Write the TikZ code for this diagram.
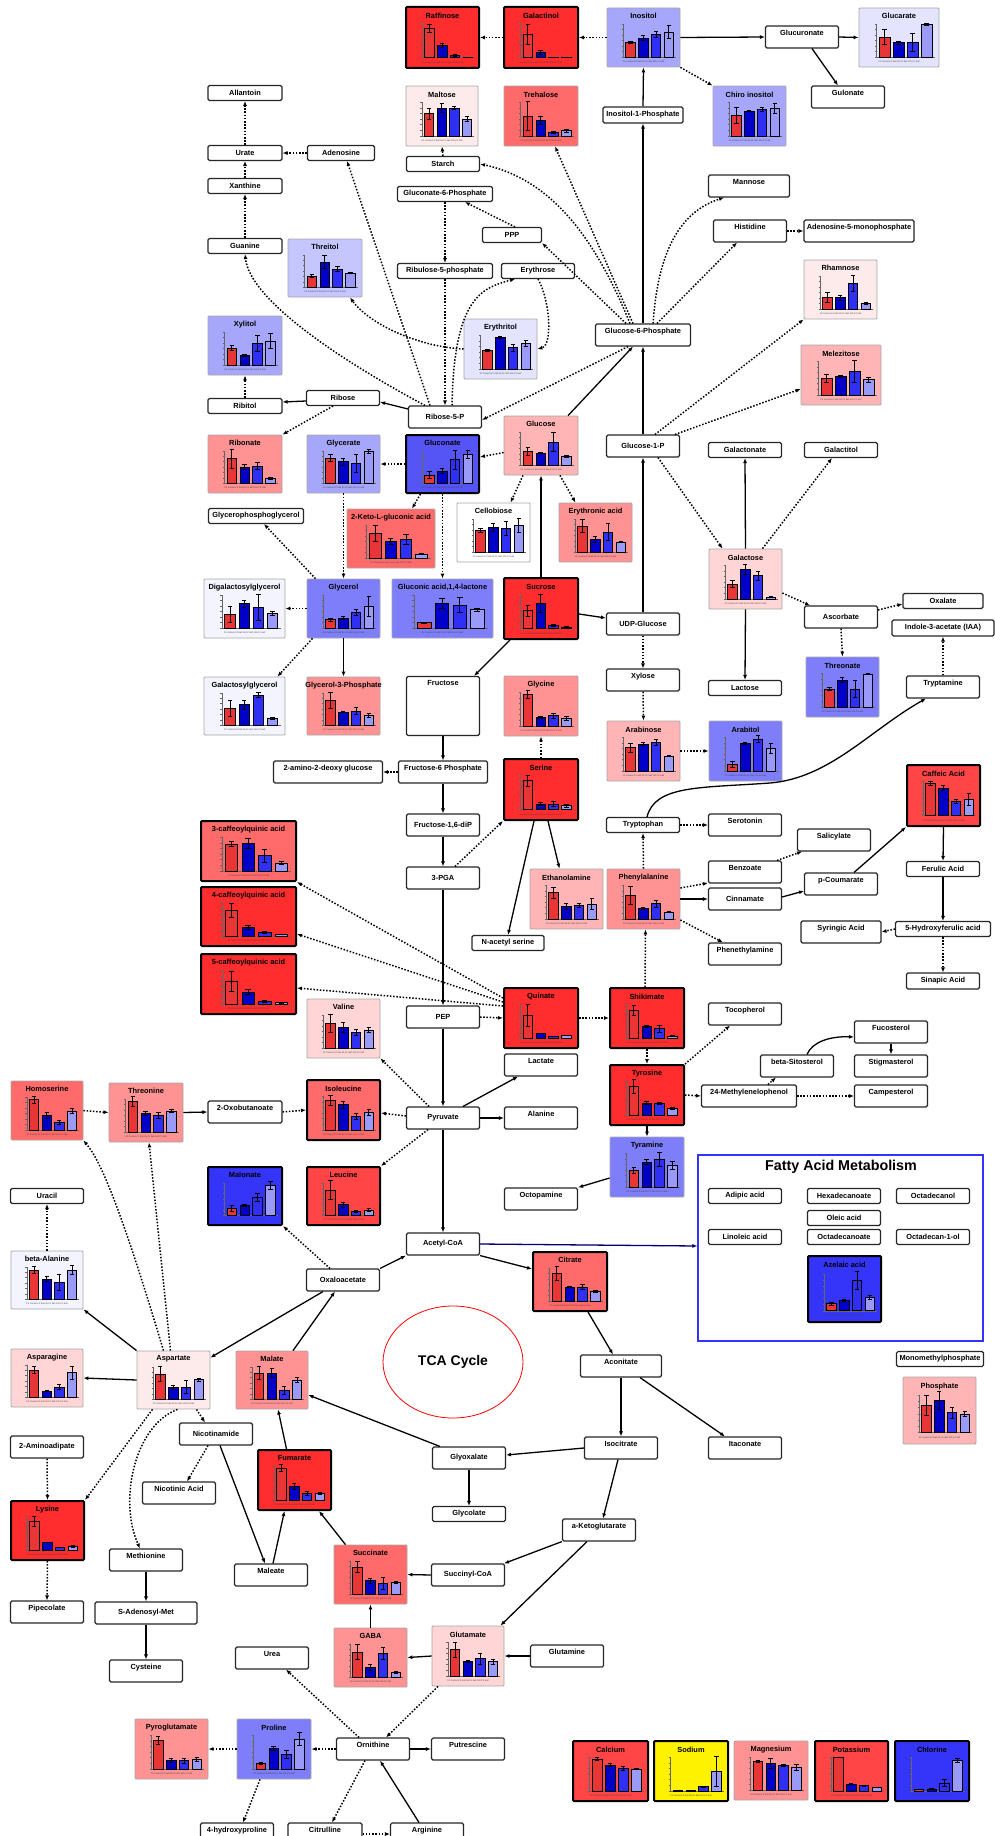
\documentclass[tikz,border=0pt]{standalone}
\usepackage{fontspec}
\setmainfont{Liberation Sans}
\usepackage{tikz}
\usetikzlibrary{arrows.meta}
\usetikzlibrary{shapes.geometric}

\definecolor{rA}{HTML}{FF2D2D}
\definecolor{rB}{HTML}{FF4545}
\definecolor{rC}{HTML}{FF6B6B}
\definecolor{rD}{HTML}{FF9292}
\definecolor{rE}{HTML}{FFB5B5}
\definecolor{rF}{HTML}{FFD5D5}
\definecolor{rG}{HTML}{FDEAEA}
\definecolor{wL}{HTML}{F4F4FE}
\definecolor{bE}{HTML}{E4E4FF}
\definecolor{bD}{HTML}{C6C6FF}
\definecolor{bC}{HTML}{A6A6FA}
\definecolor{bB}{HTML}{7E7EFA}
\definecolor{bA}{HTML}{5555F5}
\definecolor{bZ}{HTML}{3535FA}
\definecolor{bar1}{HTML}{E83535}
\definecolor{bar2}{HTML}{0000C8}
\definecolor{bar3}{HTML}{3030F5}
\definecolor{bar4}{HTML}{9A9AF8}
\definecolor{navyline}{HTML}{000070}
\definecolor{faframe}{HTML}{3333FF}

% #1 name, #2 x, #3 y, #4 width, #5 height, #6 look, #7 title, #8 bars (height/error)
\newcommand{\metchart}[8]{%
  \node[chartbox, minimum width=#4pt, minimum height=#5pt, #6] (#1) at (#2,#3) {};
  \node[ctitle] (#1-title) at (#2,{#3-0.36*#5}) {#7};
  \pgfmathsetmacro{\chL}{#2-0.5*#4}%
  \pgfmathsetmacro{\chB}{#3+0.33*#5}%
  \pgfmathsetmacro{\chH}{0.56*#5}%
  \pgfmathsetmacro{\chW}{0.065*#4}%
  \draw[axisline] ({\chL+0.22*#4},{\chB-\chH}) -- ({\chL+0.22*#4},\chB) -- ({\chL+0.95*#4},\chB);
  \foreach \t in {0,1,...,6}
    \draw[axisline] ({\chL+0.2*#4},{\chB-\t*\chH/6}) -- ({\chL+0.22*#4},{\chB-\t*\chH/6});
  \foreach \hh/\ee [count=\i] in {#8}{%
    \pgfmathsetmacro{\chX}{\chL+(0.145+0.175*\i)*#4}%
    \draw[barline, fill=bar\i] ({\chX-\chW},\chB) rectangle ({\chX+\chW},{\chB-\hh*\chH});
    \draw[errbar] ({\chX},{\chB-(\hh+\ee)*\chH}) -- ({\chX},{\chB-(\hh-\ee)*\chH})
      ({\chX-0.45*\chW},{\chB-(\hh+\ee)*\chH}) -- ({\chX+0.45*\chW},{\chB-(\hh+\ee)*\chH})
      ({\chX-0.45*\chW},{\chB-(\hh-\ee)*\chH}) -- ({\chX+0.45*\chW},{\chB-(\hh-\ee)*\chH});
  }
  \node[xlab] (#1-cat) at (#2,{#3+0.41*#5}) {C2 Control,C2 Salt 50,C2 Salt 100,C2 Salt};
}

\begin{document}
\begin{tikzpicture}[x=1pt, y=-1pt,
    met/.style={draw=black!85, fill=white, line width=1.1pt, rounded corners=1.5pt, inner sep=0pt,
      minimum width=73pt, minimum height=15pt, font=\fontsize{7.4}{8}\bfseries},
    mettop/.style={met, text height=9.3pt, text depth=12.7pt},
    metmid/.style={met, minimum height=22pt},
    chartbox/.style={draw=black!35, line width=0.8pt, rounded corners=1pt, inner sep=0pt},
    hot/.style={draw=black, line width=2pt},
    ctitle/.style={font=\fontsize{7.4}{8}\bfseries, inner sep=0pt},
    xlab/.style={font=\fontsize{2.2}{2.4}\selectfont, inner sep=0pt, text=black!75},
    axisline/.style={draw=black!60, line width=0.3pt},
    barline/.style={draw=black, line width=0.6pt},
    errbar/.style={draw=black, line width=0.6pt},
    conv/.style={-{Latex[length=5pt,width=4pt]}, line width=1.3pt},
    dconv/.style={conv, line width=1.5pt, dash pattern=on 1.5pt off 1.7pt},
    faconv/.style={conv, draw=navyline, fill=navyline}]

\useasboundingbox (0,0) rectangle (995,1836);

% plain metabolites
\node[met, minimum width=74pt] (allan) at (245,93) {Allantoin};
\node[met, minimum width=74pt] (urate) at (245,153) {Urate};
\node[met, minimum width=74pt] (xanth) at (245,186) {Xanthine};
\node[met, minimum width=74pt] (guan) at (245,246) {Guanine};
\node[met, minimum width=67pt] (adeno) at (341,153) {Adenosine};
\node[met, minimum width=74pt] (ribitol) at (245,406) {Ribitol};
\node[met] (ribose) at (343,398) {Ribose};
\node[met] (starch) at (443,164) {Starch};
\node[met, minimum width=95pt] (g6ph) at (445,194) {Gluconate-6-Phosphate};
\node[met, minimum width=59pt] (ppp) at (512,235) {PPP};
\node[met, minimum width=95pt] (ru5p) at (445,271) {Ribulose-5-phosphate};
\node[met] (eryth) at (538,271) {Erythrose};
\node[met, minimum width=80pt, minimum height=16pt] (ino1p) at (643,115) {Inositol-1-Phosphate};
\node[mettop, minimum width=95pt] (glc6p) at (643,335) {Glucose-6-Phosphate};
\node[metmid] (r5p) at (445,417) {Ribose-5-P};
\node[metmid] (glc1p) at (643,446) {Glucose-1-P};
\node[mettop] (glcur) at (802,37) {Glucuronate};
\node[mettop] (gulon) at (848,97) {Gulonate};
\node[mettop, minimum width=81pt] (mann) at (749,186) {Mannose};
\node[mettop] (hist) at (750,231) {Histidine};
\node[mettop, minimum width=110pt] (amp) at (859,231) {Adenosine-5-monophosphate};
\node[met] (galacton) at (745,450) {Galactonate};
\node[met] (galactit) at (841,450) {Galactitol};
\node[met, minimum width=95pt] (gpg) at (256,516) {Glycerophosphoglycerol};
\node[metmid] (udpg) at (643,624) {UDP-Glucose};
\node[met, text height=8.5pt, text depth=50.5pt] (fruc) at (443,706) {Fructose};
\node[mettop] (xyl) at (643,680) {Xylose};
\node[mettop, minimum width=109pt] (aminoglc) at (328,772) {2-amino-2-deoxy glucose};
\node[mettop, minimum width=89pt] (f6p) at (443,772) {Fructose-6 Phosphate};
\node[metmid] (f16p) at (443,825) {Fructose-1,6-diP};
\node[metmid] (pga) at (443,878) {3-PGA};
\node[met] (trp) at (643,825) {Tryptophan};
\node[metmid] (asc) at (841,617) {Ascorbate};
\node[met, minimum width=80pt] (oxal) at (943,601) {Oxalate};
\node[met, minimum width=102pt, minimum height=16pt] (iaa) at (943,628) {Indole-3-acetate (IAA)};
\node[met] (lact) at (745,688) {Lactose};
\node[mettop] (tryptam) at (943,687) {Tryptamine};
\node[mettop] (sero) at (745,825) {Serotonin};
\node[mettop] (salic) at (834,840) {Salicylate};
\node[mettop] (benz) at (745,872) {Benzoate};
\node[metmid] (cinn) at (745,899) {Cinnamate};
\node[mettop] (pcoum) at (841,884) {p-Coumarate};
\node[met] (ferul) at (943,869) {Ferulic Acid};
\node[mettop, minimum width=80pt] (syring) at (841,932) {Syringic Acid};
\node[met, minimum width=95pt] (hferul) at (943,929) {5-Hydroxyferulic acid};
\node[mettop] (phenam) at (745,954) {Phenethylamine};
\node[met, minimum height=16pt] (sinap) at (943,981) {Sinapic Acid};
\node[met, minimum width=72pt] (nacser) at (508,943) {N-acetyl serine};
\node[metmid] (pep) at (443,1017) {PEP};
\node[mettop] (lactate) at (541,1065) {Lactate};
\node[metmid] (pyr) at (443,1118) {Pyruvate};
\node[mettop] (ala) at (541,1118) {Alanine};
\node[mettop] (octop) at (541,1199) {Octopamine};
\node[metmid] (acoa) at (443,1244) {Acetyl-CoA};
\node[mettop, minimum width=81pt] (acon) at (621,1366) {Aconitate};
\node[mettop] (toco) at (745,1014) {Tocopherol};
\node[mettop] (fucos) at (891,1032) {Fucosterol};
\node[mettop] (bsito) at (797,1066) {beta-Sitosterol};
\node[mettop] (stigma) at (891,1066) {Stigmasterol};
\node[mettop, minimum width=95pt] (mlph) at (749,1096) {24-Methylenelophenol};
\node[mettop] (campe) at (891,1096) {Campesterol};
\node[met, minimum width=87pt] (mmp) at (940,1359) {Monomethylphosphate};
\node[mettop, minimum width=74pt] (oxbut) at (245,1112) {2-Oxobutanoate};
\node[met] (uracil) at (47,1196) {Uracil};
\node[metmid] (oxac) at (343,1280) {Oxaloacetate};
\node[metmid] (aad) at (47,1447) {2-Aminoadipate};
\node[metmid] (nicam) at (216,1434) {Nicotinamide};
\node[mettop] (nicac) at (179,1493) {Nicotinic Acid};
\node[mettop] (meth) at (146,1560) {Methionine};
\node[mettop] (male) at (271,1575) {Maleate};
\node[mettop] (pipe) at (47,1612) {Pipecolate};
\node[metmid, minimum width=102pt] (sam) at (146,1613) {S-Adenosyl-Met};
\node[mettop] (cyst) at (146,1671) {Cysteine};
\node[mettop] (urea) at (272,1658) {Urea};
\node[mettop] (hypro) at (237,1834) {4-hydroxyproline};
\node[mettop, minimum width=74pt] (citr) at (325,1834) {Citrulline};
\node[mettop] (arg) at (427,1834) {Arginine};
\node[mettop] (isocit) at (621,1448) {Isocitrate};
\node[metmid] (glyox) at (469,1458) {Glyoxalate};
\node[met] (glycol) at (469,1514) {Glycolate};
\node[mettop] (akg) at (599,1530) {a-Ketoglutarate};
\node[metmid] (sucoa) at (468,1575) {Succinyl-CoA};
\node[mettop] (gln) at (567,1656) {Glutamine};
\node[mettop] (orn) at (373,1749) {Ornithine};
\node[mettop] (putr) at (468,1749) {Putrescine};
\node[mettop] (itac) at (745,1448) {Itaconate};

% fatty acid block
\node[draw=faframe, line width=1.2pt, minimum width=285pt, minimum height=186pt, inner sep=0pt] (fam) at (840.5,1248) {};
\node[font=\fontsize{14.3}{16}\bfseries, inner sep=0pt] (famt) at (841,1167) {Fatty Acid Metabolism};
\node[met] (adip) at (745,1196) {Adipic acid};
\node[met] (hexa) at (844,1196) {Hexadecanoate};
\node[met] (octol) at (933,1196) {Octadecanol};
\node[met] (oleic) at (844,1218) {Oleic acid};
\node[met] (linol) at (745,1237) {Linoleic acid};
\node[met] (octoate) at (844,1237) {Octadecanoate};
\node[met] (octan) at (933,1237) {Octadecan-1-ol};

\node[draw=red, ellipse, line width=0.8pt, minimum width=140pt, minimum height=112pt,
  font=\fontsize{14}{16}\bfseries] (tca) at (453,1362) {TCA Cycle};

% measured metabolites
\metchart{raff}{442.5}{37.5}{73}{61}{fill=rA,hot}{Raffinose}{0.86/0.13,0.36/0.06,0.08/0.03,0.01/0}
\metchart{galtol}{541}{37.5}{74}{61}{fill=rA,hot}{Galactinol}{0.69/0.29,0.15/0.05,0.02/0,0.02/0}
\metchart{inos}{643.5}{37.5}{73}{59}{fill=bC}{Inositol}{0.45/0.03,0.58/0.08,0.69/0.08,0.76/0.2}
\metchart{glucar}{899}{37.5}{80}{59}{fill=bE}{Glucarate}{0.61/0.22,0.43/0.05,0.45/0.28,1.0/0.03}
\metchart{chiro}{749.5}{116}{73}{60}{fill=bC}{Chiro inositol}{0.61/0.25,0.74/0.02,0.79/0.06,0.83/0.15}
\metchart{malt}{442}{116}{72}{60}{fill=rG}{Maltose}{0.66/0.17,0.83/0.13,0.83/0.05,0.5/0.08}
\metchart{treh}{541}{116}{74}{60}{fill=rC}{Trehalose}{0.59/0.44,0.45/0.12,0.1/0.02,0.15/0.05}
\metchart{threit}{325}{268}{74}{58}{fill=bD}{Threitol}{0.34/0.05,0.78/0.2,0.56/0.08,0.44/0.02}
\metchart{xylit}{245}{345.5}{74}{59}{fill=bC}{Xylitol}{0.51/0.08,0.29/0.02,0.65/0.25,0.72/0.23}
\metchart{erythl}{500.5}{349}{73}{60}{fill=bE}{Erythritol}{0.56/0.03,0.93/0.03,0.63/0.1,0.76/0.1}
\metchart{rham}{840.5}{289.5}{73}{59}{fill=rG}{Rhamnose}{0.34/0.15,0.34/0.07,0.77/0.25,0.16/0.03}
\metchart{melez}{841}{375}{80}{60}{fill=rE}{Melezitose}{0.49/0.13,0.56/0.03,0.69/0.33,0.45/0.08}
\metchart{ribon}{245}{464}{74}{58}{fill=rD}{Ribonate}{0.75/0.3,0.5/0.08,0.53/0.1,0.15/0.03}
\metchart{glycer}{343.5}{464}{73}{58}{fill=bC}{Glycerate}{0.78/0.1,0.66/0.1,0.6/0.28,0.97/0.06}
\metchart{glucon}{442.5}{464}{73}{58}{fill=bA,hot}{Gluconate}{0.25/0.1,0.38/0.08,0.72/0.3,0.9/0.12}
\metchart{glc}{541}{445.5}{74}{59}{fill=rE}{Glucose}{0.42/0.12,0.36/0.02,0.7/0.3,0.26/0.02}
\metchart{keto}{391}{538.5}{88}{59}{fill=rC}{2-Keto-L-gluconic acid}{0.75/0.25,0.51/0.1,0.56/0.15,0.12/0.02}
\metchart{cellob}{493.5}{532.5}{73}{59}{fill=white}{Cellobiose}{0.66/0.06,0.74/0.12,0.71/0.22,0.81/0.2}
\metchart{erythac}{595.5}{532.5}{73}{59}{fill=rD}{Erythronic acid}{0.79/0.2,0.38/0.1,0.61/0.25,0.3/0.02}
\metchart{digal}{244.5}{608.5}{81}{59}{fill=wL}{Digalactosylglycerol}{0.42/0.25,0.74/0.1,0.63/0.4,0.45/0.06}
\metchart{glyc}{343.5}{608.5}{73}{59}{fill=bB}{Glycerol}{0.25/0.05,0.3/0.05,0.48/0.1,0.66/0.3}
\metchart{glcl}{442.5}{608.5}{101}{59}{fill=bB}{Gluconic acid,1,4-lactone}{0.16/0.01,0.76/0.15,0.7/0.22,0.56/0.05}
\metchart{sucr}{541}{608.5}{74}{61}{fill=rA,hot}{Sucrose}{0.53/0.16,0.75/0.26,0.1/0.02,0.05/0.01}
\metchart{galgl}{244.5}{706}{81}{58}{fill=wL}{Galactosylglycerol}{0.53/0.25,0.63/0.14,0.93/0.08,0.21/0.03}
\metchart{g3p}{343.5}{706}{73}{58}{fill=rD}{Glycerol-3-Phosphate}{0.76/0.25,0.41/0.02,0.44/0.1,0.31/0.06}
\metchart{glyci}{541}{706}{74}{60}{fill=rD}{Glycine}{0.94/0.12,0.26/0.03,0.3/0.08,0.22/0.05}
\metchart{galac}{745.5}{579}{73}{60}{fill=rF}{Galactose}{0.44/0.1,0.87/0.15,0.69/0.14,0.05/0.01}
\metchart{arab}{643.5}{751}{73}{60}{fill=rE}{Arabinose}{0.69/0.13,0.8/0.05,0.85/0.1,0.44/0.02}
\metchart{arabt}{745.5}{751}{73}{60}{fill=bB}{Arabitol}{0.19/0.1,0.82/0.02,0.95/0.1,0.68/0.15}
\metchart{threon}{842.5}{687}{73}{60}{fill=bB}{Threonate}{0.53/0.05,0.8/0.08,0.53/0.25,0.98/0.01}
\metchart{ser}{541}{789.5}{74}{61}{fill=rA,hot}{Serine}{0.85/0.16,0.17/0.05,0.17/0.08,0.12/0.04}
\metchart{ethan}{566.5}{899}{73}{60}{fill=rE}{Ethanolamine}{0.78/0.17,0.37/0.08,0.39/0.06,0.44/0.17}
\metchart{phe}{643.5}{899}{73}{60}{fill=rD}{Phenylalanine}{0.7/0.28,0.32/0.03,0.45/0.1,0.2/0.02}
\metchart{caff}{943.5}{795.5}{73}{61}{fill=rB,hot}{Caffeic Acid}{0.95/0.06,0.81/0.08,0.41/0.06,0.47/0.17}
\metchart{cqa3}{248.5}{851}{95}{60}{fill=rC,hot}{3-caffeoylquinic acid}{0.8/0.08,0.83/0.15,0.45/0.2,0.23/0.05}
\metchart{cqa4}{248.5}{916.5}{95}{59}{fill=rA,hot}{4-caffeoylquinic acid}{0.78/0.22,0.27/0.06,0.1/0.03,0.05/0.01}
\metchart{cqa5}{248.5}{984}{95}{60}{fill=rA,hot}{5-caffeoylquinic acid}{0.68/0.3,0.35/0.07,0.07/0.02,0.04/0.01}
\metchart{val}{343.5}{1028.5}{73}{59}{fill=rF}{Valine}{0.75/0.28,0.63/0.15,0.47/0.1,0.55/0.08}
\metchart{quin}{541}{1018}{74}{60}{fill=rA,hot}{Quinate}{0.67/0.33,0.13/0.01,0.04/0,0.07/0.01}
\metchart{shik}{647}{1018}{74}{60}{fill=rA,hot}{Shikimate}{0.82/0.15,0.34/0.02,0.27/0.1,0.05/0.01}
\metchart{tyr}{647}{1095}{74}{60}{fill=rA,hot}{Tyrosine}{0.85/0.2,0.35/0.05,0.35/0.03,0.19/0.02}
\metchart{tyram}{647}{1167}{74}{60}{fill=bB}{Tyramine}{0.49/0.08,0.74/0.08,0.82/0.2,0.64/0.12}
\metchart{homos}{47}{1110.5}{72}{59}{fill=rC}{Homoserine}{0.92/0.1,0.44/0.1,0.23/0.07,0.58/0.07}
\metchart{thre}{146}{1112.5}{74}{59}{fill=rD}{Threonine}{0.92/0.15,0.56/0.07,0.51/0.1,0.64/0.04}
\metchart{ile}{343.5}{1110}{73}{60}{fill=rC,hot}{Isoleucine}{0.88/0.15,0.75/0.1,0.4/0.1,0.52/0.08}
\metchart{malon}{245}{1196}{74}{58}{fill=bZ,hot}{Malonate}{0.22/0.09,0.3/0.04,0.55/0.12,0.92/0.12}
\metchart{leu}{343.5}{1196}{73}{58}{fill=rB,hot}{Leucine}{0.78/0.3,0.32/0.08,0.12/0.03,0.16/0.05}
\metchart{balan}{47}{1280}{72}{58}{fill=wL}{beta-Alanine}{0.9/0.1,0.62/0.08,0.51/0.25,0.9/0.14}
\metchart{citrate}{570}{1281.5}{74}{59}{fill=rC,hot}{Citrate}{0.84/0.2,0.42/0.02,0.42/0.08,0.29/0.02}
\metchart{azel}{844.5}{1289}{73}{66}{fill=bZ,hot}{Azelaic acid}{0.19/0.05,0.28/0.02,0.83/0.25,0.37/0.05}
\metchart{phos}{939.5}{1410.5}{73}{67}{fill=rE}{Phosphate}{0.72/0.27,0.86/0.24,0.53/0.15,0.5/0.06}
\metchart{aspn}{47}{1378}{72}{58}{fill=rF}{Asparagine}{0.84/0.12,0.19/0.02,0.31/0.08,0.75/0.2}
\metchart{asp}{173.5}{1380}{73}{58}{fill=rG}{Aspartate}{0.78/0.22,0.37/0.06,0.37/0.2,0.6/0.05}
\metchart{malate}{272}{1380}{72}{58}{fill=rD}{Malate}{0.81/0.2,0.81/0.15,0.28/0.12,0.59/0.07}
\metchart{fum}{294.5}{1480}{73}{60}{fill=rA,hot}{Fumarate}{0.95/0.1,0.4/0.1,0.19/0.06,0.19/0.03}
\metchart{lys}{47.5}{1530.5}{73}{59}{fill=rA,hot}{Lysine}{0.88/0.15,0.23/0.01,0.08/0.01,0.1/0.03}
\metchart{succ}{370.5}{1574.5}{73}{59}{fill=rC}{Succinate}{0.82/0.17,0.4/0.07,0.33/0.18,0.36/0.03}
\metchart{gaba}{370.5}{1657.5}{73}{59}{fill=rD}{GABA}{0.76/0.23,0.29/0.1,0.71/0.18,0.14/0.02}
\metchart{glu}{468}{1656}{72}{60}{fill=rF}{Glutamate}{0.78/0.22,0.42/0.03,0.51/0.17,0.42/0.08}
\metchart{pyroglu}{171.5}{1749}{73}{60}{fill=rD}{Pyroglutamate}{0.85/0.12,0.26/0.06,0.24/0.08,0.29/0.06}
\metchart{pro}{274}{1749}{74}{60}{fill=bB}{Proline}{0.16/0.03,0.6/0.06,0.42/0.12,0.89/0.2}
\metchart{ca}{610.5}{1771}{75}{60}{fill=rB,hot}{Calcium}{0.95/0.05,0.77/0.04,0.67/0.05,0.65/0.01}
\metchart{na}{691}{1771}{74}{60}{fill=yellow,hot}{Sodium}{0.02/0,0.03/0,0.12/0.01,0.57/0.45}
\metchart{mg}{771}{1770.5}{74}{59}{fill=rD}{Magnesium}{0.86/0.03,0.81/0.16,0.74/0.03,0.69/0.1}
\metchart{kal}{851.5}{1771}{73}{60}{fill=rB,hot}{Potassium}{1.0/0,0.2/0.01,0.15/0.01,0.1/0.01}
\metchart{cl}{932}{1771}{74}{60}{fill=bZ,hot}{Chlorine}{0.04/0,0.06/0.01,0.23/0.1,0.92/0.06}

% sugars, inositol
\draw[dconv] (inos.west) -- (galtol.east);
\draw[dconv] (galtol.west) -- (raff.east);
\draw[conv] (inos.east) -- (glcur.west);
\draw[conv] (glcur.east) -- (glucar.west);
\draw[conv] ([xshift=10pt]glcur.south) -- ([xshift=-10pt]gulon.north);
\draw[dconv] (inos.south east) -- (chiro.north west);
\draw[conv] (ino1p.north) -- (inos.south);
\draw[conv] (glc6p.north) -- (ino1p.south);
\draw[conv] (glc1p.north) -- (glc6p.south);
\draw[conv] (udpg.north) -- (glc1p.south);
\draw[dconv] ([xshift=-13pt]glc6p.north) .. controls (598,245) and (555,180) .. (starch.east);
\draw[dconv] ([xshift=-10pt]glc6p.north) -- ([xshift=14pt]treh.south);
\draw[dconv] (starch.north) -- (malt.south);
\draw[dconv] ([xshift=3pt]ppp.north) -- ([xshift=20pt]g6ph.south);
\draw[dconv] ([xshift=-17pt]glc6p.north) -- (ppp.south east);
\draw[dconv] (g6ph.south) -- (ru5p.north);
\draw[dconv] (ru5p.south) -- (r5p.north);
\draw[dconv] (eryth.south) .. controls (550,300) and (553,345) .. (erythl.east);
\draw[dconv] ([xshift=7pt]r5p.north) .. controls (454,300) and (480,288) .. ([xshift=-23pt]eryth.south);
\draw[dconv] (erythl.west) .. controls (420,347) and (370,325) .. ([xshift=25pt]threit.south);
\draw[dconv] ([xshift=-15pt]r5p.north) -- ([xshift=6pt]adeno.south);
\draw[dconv] (adeno.west) -- (urate.east);
\draw[dconv] (urate.north) -- (allan.south);
\draw[dconv] (xanth.north) -- (urate.south);
\draw[dconv] (guan.north) -- (xanth.south);
\draw[dconv] ([xshift=-20pt]r5p.north) .. controls (340,360) and (250,300) .. (guan.south);
\draw[conv] ([yshift=8pt]r5p.west) -- ([yshift=-4pt]ribose.east);
\draw[conv] ([yshift=-3pt]ribose.west) -- ([yshift=4pt]ribitol.east);
\draw[dconv] (ribitol.north) -- (xylit.south);
\draw[dconv] ([xshift=-10pt]ribose.south) -- (ribon.north east);
\draw[dconv] ([xshift=-15pt]glc6p.south) -- ([yshift=-3pt]r5p.east);
\draw[conv] ([xshift=27pt]glc.north) -- ([xshift=-10pt]glc6p.south);
\draw[dconv] ([xshift=12pt]glc1p.north) -- (rham.south west);
\draw[dconv] ([xshift=10pt]glc6p.north) .. controls (657,270) and (670,215) .. ([xshift=-25pt]mann.south);
\draw[dconv] ([xshift=14pt]glc6p.north) -- ([xshift=-13pt]hist.south);
\draw[dconv] (hist.east) -- (amp.west);
\draw[dconv] ([xshift=32pt]glc1p.north) -- ([yshift=-14pt]melez.west);
\draw[dconv] ([xshift=15pt]glc1p.south) -- ([xshift=-23pt]galac.north);
\draw[conv] (galac.north) -- (galacton.south);
\draw[dconv] ([xshift=17pt]galac.north) -- ([xshift=-9pt]galactit.south);
\draw[conv] (galac.south) -- (lact.north);
\draw[dconv] ([yshift=-14pt]galac.east) -- ([xshift=6pt]asc.north west);
\draw[dconv] ([yshift=7pt]asc.east) -- ([yshift=-3pt]oxal.west);
\draw[dconv] (asc.south) -- (threon.north);
\draw[dconv] (tryptam.north) -- (iaa.south);

% glucose, glycerol
\draw[dconv] ([yshift=-7pt]glc.west) -- ([yshift=7pt]glucon.east);
\draw[dconv] (glucon.west) -- (glycer.east);
\draw[dconv] ([xshift=-22pt]glucon.south) -- ([xshift=21pt]keto.north);
\draw[dconv] (glucon.south) -- (glcl.north);
\draw[dconv] (glycer.south) -- (glyc.north);
\draw[dconv] ([xshift=-28pt]glyc.north) -- ([xshift=8pt]gpg.south);
\draw[dconv] (glyc.west) -- (digal.east);
\draw[dconv] ([xshift=-31pt]glyc.south) -- ([xshift=-8pt]galgl.north east);
\draw[conv] (glyc.south) -- (g3p.north);
\draw[dconv] ([xshift=-18pt]glc.south) -- ([xshift=17pt]cellob.north);
\draw[dconv] ([xshift=19pt]glc.south) -- ([xshift=-20pt]erythac.north);
\draw[conv] (sucr.north) -- (glc.south);
\draw[conv] ([yshift=-5.5pt]sucr.east) -- ([yshift=6pt]udpg.west);
\draw[conv] ([xshift=-31pt]sucr.south) -- ([xshift=-6pt]fruc.north east);
\draw[dconv] (udpg.south) -- (xyl.north);
\draw[dconv] (xyl.south) -- (arab.north);
\draw[dconv] (arab.east) -- (arabt.west);

% glycolysis
\draw[conv] (fruc.south) -- (f6p.north);
\draw[dconv] (f6p.west) -- (aminoglc.east);
\draw[conv] (f6p.south) -- (f16p.north);
\draw[conv] (f16p.south) -- (pga.north);
\draw[dconv] ([xshift=12pt]pga.north) -- (ser.south west);
\draw[dconv] (ser.north) -- (glyci.south);
\draw[conv] ([xshift=7pt]ser.south) -- ([xshift=-7pt]ethan.north);
\draw[conv] ([xshift=-7pt]ser.south) -- (nacser.north);
\draw[conv] (pga.south) -- (pep.north);
\draw[dconv] (pep.east) -- (quin.west);
\draw[dconv] (quin.east) -- (shik.west);
\draw[dconv] ([yshift=20pt]quin.west) -- (cqa3.south east);
\draw[dconv] ([yshift=16pt]quin.west) -- ([yshift=-17.5pt]cqa4.east);
\draw[dconv] ([yshift=12pt]quin.west) -- ([yshift=-4pt]cqa5.east);
\draw[conv] (pep.south) -- (pyr.north);
\draw[dconv] ([xshift=-14pt]pyr.north) -- (val.south east);
\draw[dconv] ([yshift=2pt]pyr.west) -- ([yshift=-3pt]ile.east);
\draw[dconv] ([xshift=-15pt]pyr.south) -- (leu.north east);
\draw[conv] ([xshift=20pt]pyr.north) -- ([xshift=-23pt]lactate.south);
\draw[conv] (pyr.east) -- (ala.west);
\draw[conv] (pyr.south) -- (acoa.north);
\draw[faconv] (acoa.east) -- ([yshift=2pt]fam.west);

% shikimate and phenylpropanoids
\draw[dconv] ([xshift=-2pt]shik.north) -- ([xshift=2pt]phe.south);
\draw[dconv] (shik.south) -- (tyr.north);
\draw[conv] (tyr.south) -- (tyram.north);
\draw[conv] ([yshift=-11pt]tyram.west) -- (octop.north east);
\draw[dconv] (tyr.north east) -- ([xshift=-15pt]toco.south);
\draw[dconv] (tyr.east) -- (mlph.west);
\draw[dconv] ([xshift=19pt]mlph.north) -- ([xshift=-21pt]bsito.south);
\draw[conv] ([xshift=10pt]bsito.north) .. controls (812,1042) and (830,1036) .. ([yshift=-5pt]fucos.west);
\draw[conv] (fucos.south) -- (stigma.north);
\draw[dconv] (mlph.east) -- (campe.west);
\draw[dconv] (phe.north) -- (trp.south);
\draw[dconv] (trp.east) -- (sero.west);
\draw[conv] ([xshift=4pt]trp.north) .. controls (655,785) and (700,788) .. (770,783)
  .. controls (830,778) and (870,730) .. ([xshift=20pt]tryptam.south west);
\draw[dconv] ([yshift=11pt]phe.east) -- ([yshift=-11pt]benz.west);
\draw[conv] (phe.east) -- (cinn.west);
\draw[dconv] ([yshift=-21pt]phe.east) -- ([xshift=-22pt]phenam.north);
\draw[dconv] ([xshift=32pt]benz.north) -- ([xshift=-32pt]salic.south);
\draw[conv] ([yshift=2pt]cinn.east) -- ([yshift=-7pt]pcoum.west);
\draw[conv] ([xshift=13pt]pcoum.north) -- (caff.south west);
\draw[conv] (caff.south) -- (ferul.north);
\draw[conv] (ferul.south) -- (hferul.north);
\draw[dconv] (hferul.west) -- (syring.east);
\draw[dconv] (hferul.south) -- (sinap.north);

% TCA cycle
\draw[conv] (acoa.south east) -- ([yshift=12.5pt]citrate.west);
\draw[conv] (oxac.north east) -- (acoa.south west);
\draw[conv] ([xshift=18pt]citrate.south) -- ([xshift=-8pt]acon.north);
\draw[conv] (acon.south) -- (isocit.north);
\draw[conv] ([xshift=19pt]acon.south) -- ([xshift=-20pt]itac.north);
\draw[conv] (isocit.west) -- ([yshift=3pt]glyox.east);
\draw[conv] (glyox.south) -- (glycol.north);
\draw[conv] ([xshift=-29pt]glyox.north) -- ([yshift=-15pt]malate.east);
\draw[conv] ([xshift=-3pt]isocit.south) -- ([xshift=4pt]akg.north);
\draw[conv] (akg.south west) -- ([xshift=-1pt]sucoa.north east);
\draw[conv] ([xshift=-12pt]akg.south) -- ([xshift=-4pt]glu.north east);
\draw[conv] (sucoa.west) -- (succ.east);
\draw[conv] ([xshift=-25pt]succ.north) -- ([xshift=-13pt]fum.south east);
\draw[conv] (gaba.north) -- (succ.south);
\draw[conv] (glu.west) -- (gaba.east);
\draw[conv] (gln.west) -- (glu.east);
\draw[conv] ([xshift=21pt]malate.north) -- ([xshift=-8pt]oxac.south);
\draw[conv] ([xshift=-8pt]fum.north) -- ([xshift=6pt]malate.south);
\draw[conv] ([xshift=2pt]male.north) -- ([xshift=-10pt]fum.south);
\draw[conv] ([xshift=4pt]nicam.south) -- ([xshift=-6pt]male.north);
\draw[dconv] ([xshift=-8pt]nicam.south) -- ([xshift=8pt]nicac.north);

% amino acids
\draw[conv] ([xshift=-20pt]oxac.south) -- ([yshift=-7pt]asp.north east);
\draw[dconv] ([xshift=-13pt]oxac.north) -- (malon.south east);
\draw[conv] (asp.north west) -- (balan.south east);
\draw[conv] (asp.west) -- (aspn.east);
\draw[dconv] ([xshift=-10pt]asp.north) .. controls (120,1205) and (100,1160) .. (homos.south east);
\draw[dconv] ([xshift=-3pt]asp.north) -- ([xshift=3pt]thre.south);
\draw[dconv] (homos.east) -- (thre.west);
\draw[conv] (thre.east) -- (oxbut.west);
\draw[dconv] (oxbut.east) -- (ile.west);
\draw[dconv] (balan.north) -- (uracil.south);
\draw[dconv] ([xshift=23pt]asp.south) -- ([xshift=-11pt]nicam.north);
\draw[dconv] ([xshift=-21pt]asp.south) -- (lys.north east);
\draw[dconv] ([xshift=4pt]asp.south) .. controls (135,1425) and (118,1500) .. ([xshift=-6pt]meth.north);
\draw[dconv] (aad.south) -- (lys.north);
\draw[dconv] (lys.south) -- (pipe.north);
\draw[conv] (meth.south) -- (sam.north);
\draw[conv] (sam.south) -- (cyst.north);
\draw[dconv] ([xshift=-30pt]glu.south) -- ([xshift=13pt]orn.north);
\draw[conv] (orn.east) -- (putr.west);
\draw[dconv] ([xshift=-14pt]orn.north) -- ([xshift=14pt]urea.south);
\draw[dconv] (orn.west) -- (pro.east);
\draw[dconv] (pro.west) -- (pyroglu.east);
\draw[dconv] ([xshift=-14pt]pro.south) -- ([xshift=6pt]hypro.north);
\draw[dconv] ([xshift=-8pt]orn.south) -- ([xshift=7pt]citr.north);
\draw[conv] ([xshift=-8pt]arg.north) -- ([xshift=7pt]orn.south);
\draw[dconv] (citr.east) -- (arg.west);
\end{tikzpicture}
\end{document}
